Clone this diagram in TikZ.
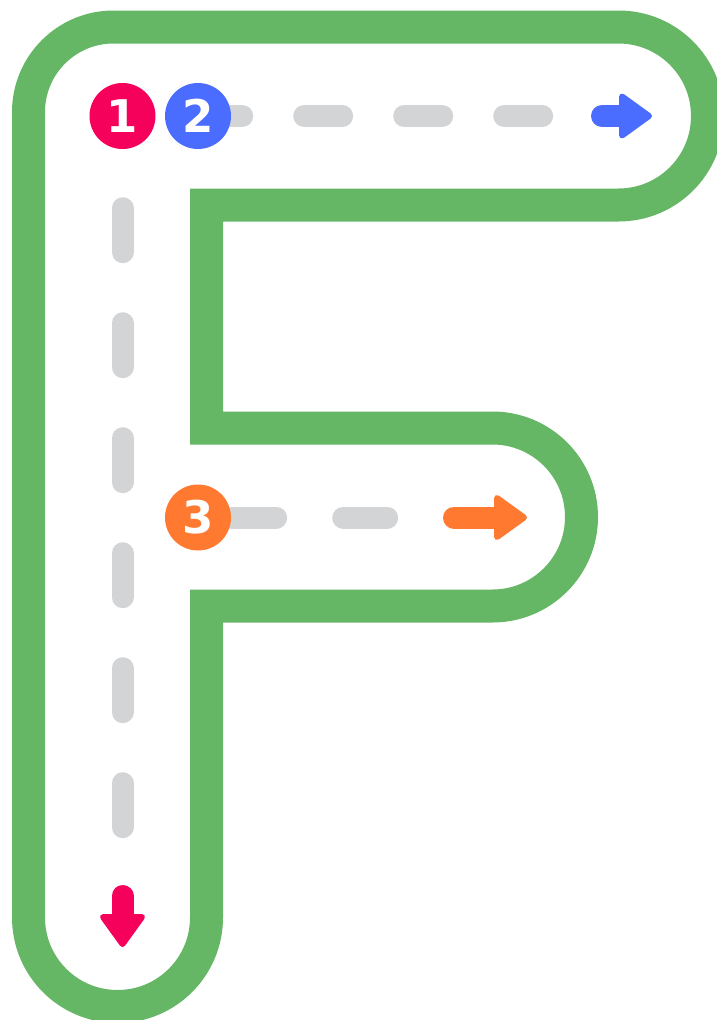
\documentclass[tikz,border=0pt]{standalone}
\usepackage{fontspec}
\usetikzlibrary{backgrounds}
\newfontfamily\numfont{DejaVu Sans}
\definecolor{tracegreen}{HTML}{65B665}
\definecolor{guidegray}{HTML}{D3D4D6}
\definecolor{tracepink}{HTML}{F5005A}
\definecolor{traceblue}{HTML}{4A6DFF}
\definecolor{traceorange}{HTML}{FF7A30}

\begin{document}
\begin{tikzpicture}[
    x=1pt, y=-1pt,
    outline/.style={draw=tracegreen, line width=33pt, line join=miter},
    guide/.style={draw=guidegray, line width=22pt, line cap=round},
    numdot/.style={circle, minimum size=66pt, inner sep=0pt, text=white, font=\numfont\fontsize{45pt}{45pt}\selectfont\bfseries},
    tracearrow/.pic={
        \draw[line width=22pt, line cap=round] (0,0) -- (#1-30,0);
        \filldraw[line width=6pt, line join=round] (#1-30,-19.5) -- (#1-3,0) -- (#1-30,19.5) -- cycle;
    }
]
\useasboundingbox (0,0) rectangle (717,1020);
% start points
\node[numdot, fill=tracepink] (n1) at (122.5,116) {1};
\node[numdot, fill=traceblue] (n2) at (198,116) {2};
\node[numdot, fill=traceorange] (n3) at (198,517.5) {3};
% where the arrows begin
\coordinate (a1) at (122.5,896);
\coordinate (a2) at (602,116);
\coordinate (a3) at (454,517.5);
\begin{scope}[on background layer]
% letter outline
\draw[outline] (28.5,917.5) -- (28.5,112) arc[start angle=180, end angle=270, radius=85]
    -- (618.5,27) arc[start angle=-90, end angle=90, radius=89]
    -- (206.5,205) -- (206.5,428)
    -- (492.5,428) arc[start angle=-90, end angle=90, radius=89]
    -- (206.5,606) -- (206.5,917.5) arc[start angle=0, end angle=180, radius=89] -- cycle;
% stroke guides
\draw[guide, dash pattern=on 44pt off 71pt, dash phase=56pt] (n1) -- (a1);
\draw[guide, dash pattern=on 38pt off 62pt, dash phase=27pt] (n2) -- (a2);
\draw[guide, dash pattern=on 44pt off 67pt, dash phase=110pt] (n3) -- (a3);
\end{scope}
\pic[tracepink, rotate=-90] at (a1) {tracearrow=51};
\pic[traceblue] at (a2) {tracearrow=50};
\pic[traceorange] at (a3) {tracearrow=73};
\end{tikzpicture}
\end{document}
